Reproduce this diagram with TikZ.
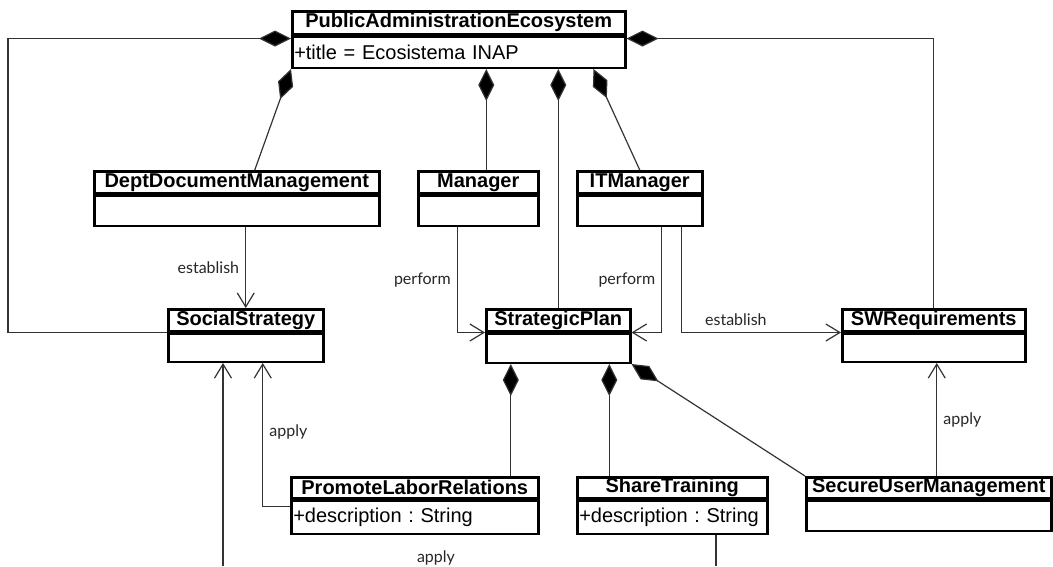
\documentclass[tikz,border=0pt]{standalone}
\usepackage{fontspec}
\setmainfont{Liberation Sans}
\newfontfamily\gillfont{Lato}
\usetikzlibrary{arrows.meta}
\frenchspacing
\tikzset{
  classhead/.style={draw, line width=2.5pt, inner sep=0pt, anchor=north west, minimum height=22pt, font=\fontsize{20}{22}\selectfont\bfseries},
  classbody/.style={draw, line width=2.5pt, inner xsep=2pt, inner ysep=0pt, anchor=north west, minimum height=30pt, font=\fontsize{20}{22}\selectfont, align=left},
  conn/.style={draw=black!80, line width=1.2pt},
  comp/.style={conn, {Diamond[length=32pt,width=16pt,fill=black]}-},
  dep/.style={conn, -{Straight Barb[length=14pt,width=17pt]}},
  lbl/.style={font=\gillfont\fontsize{16}{18}\selectfont, text=black!85, inner sep=6pt},
}
\begin{document}
\begin{tikzpicture}[x=1pt, y=-1pt, line join=miter]
  \useasboundingbox (0,0) rectangle (1053,566);
  % classes
  \node[classhead, minimum width=333pt, minimum height=23pt] (eco) at (291,10) {PublicAdministrationEcosystem};
  \node[classbody, minimum width=333pt, text width=329pt, minimum height=31pt] (ecoAttr) at (eco.south west) {+title = Ecosistema INAP};
  \node[classhead, minimum width=285pt] (dept) at (93,170) {DeptDocumentManagement};
  \node[classbody, minimum width=285pt] (deptAttr) at (dept.south west) {};
  \node[classhead, minimum width=120pt] (mgr) at (417,170) {Manager};
  \node[classbody, minimum width=120pt] (mgrAttr) at (mgr.south west) {};
  \node[classhead, minimum width=125pt] (itm) at (576,170) {ITManager};
  \node[classbody, minimum width=125pt] (itmAttr) at (itm.south west) {};
  \node[classhead, minimum width=155pt] (soc) at (167,308) {SocialStrategy};
  \node[classbody, minimum width=155pt, minimum height=28pt] (socAttr) at (soc.south west) {};
  \node[classhead, minimum width=144pt] (plan) at (485,308) {StrategicPlan};
  \node[classbody, minimum width=144pt, minimum height=29pt] (planAttr) at (plan.south west) {};
  \node[classhead, minimum width=183pt] (swreq) at (841,308) {SWRequirements};
  \node[classbody, minimum width=183pt, minimum height=28pt] (swreqAttr) at (swreq.south west) {};
  \node[classhead, minimum width=247pt, minimum height=21pt] (labor) at (290,476) {PromoteLaborRelations};
  \node[classbody, minimum width=247pt, text width=243pt, minimum height=33pt] (laborAttr) at (labor.south west) {+description : String};
  \node[classhead, minimum width=190pt, minimum height=21pt] (train) at (576,476) {ShareTraining};
  \node[classbody, minimum width=190pt, text width=186pt, minimum height=33pt] (trainAttr) at (train.south west) {+description : String};
  \node[classhead, minimum width=245pt, minimum height=21pt] (secure) at (805,476) {SecureUserManagement};
  \node[classbody, minimum width=245pt] (secureAttr) at (secure.south west) {};

  % compositions of the ecosystem
  \coordinate (leftrail) at (8,0);
  \draw[comp] ([yshift=-3pt]ecoAttr.north west) -| (leftrail |- soc.south west) -- (soc.south west);
  \draw[comp] ([yshift=-3pt]ecoAttr.north east) -| (swreq.north);
  \draw[comp] (ecoAttr.south west) -- ([xshift=18pt]dept.north);
  \coordinate (mgrTop) at ([xshift=8pt]mgr.north);
  \draw[comp] (mgrTop |- ecoAttr.south) -- (mgrTop);
  \draw[comp] (plan.north |- ecoAttr.south) -- (plan.north);
  \draw[comp] ([xshift=-33pt]ecoAttr.south east) -- (itm.north);

  % parts of the plan
  \coordinate (laborTop) at ([xshift=96pt]labor.north);
  \draw[comp] (laborTop |- planAttr.south) -- (laborTop);
  \coordinate (trainTop) at ([xshift=-63pt]train.north);
  \draw[comp] (trainTop |- planAttr.south) -- (trainTop);
  \draw[comp] (planAttr.south east) -- (secure.north west);

  % dependencies
  \draw[dep] (deptAttr.south -| soc.north) -- (soc.north) node[lbl, left, midway] {establish};
  \coordinate (mgrOut) at ([xshift=-21pt]mgrAttr.south);
  \draw[dep] (mgrOut) |- (planAttr.north west) node[lbl, left, pos=0.25] {perform};
  \coordinate (itmOut) at ([xshift=22pt]itmAttr.south);
  \draw[dep] (itmOut) |- (planAttr.north east) node[lbl, left, pos=0.25] {perform};
  \coordinate (itmOut2) at ([xshift=42pt]itmAttr.south);
  \draw[dep] (itmOut2) |- (swreqAttr.north west) node[lbl, above, pos=0.67] {establish};
  \draw[dep] ([yshift=-7pt]laborAttr.north west) -| ([xshift=17pt]socAttr.south) node[lbl, right, pos=0.76] {apply};
  \coordinate (secureTop) at ([xshift=8pt]secure.north);
  \draw[dep] (secureTop) -- (secureTop |- swreqAttr.south) node[lbl, right, midway] {apply};

  % links that leave the view
  \coordinate (socIn) at (223,566);
  \draw[dep] (socIn) -- (socIn |- socAttr.south);
  \coordinate (trainOut) at (716,566);
  \draw[conn] (trainAttr.south -| trainOut) -- (trainOut);
  \node[lbl] (applyLow) at (436,558) {apply};
\end{tikzpicture}
\end{document}
